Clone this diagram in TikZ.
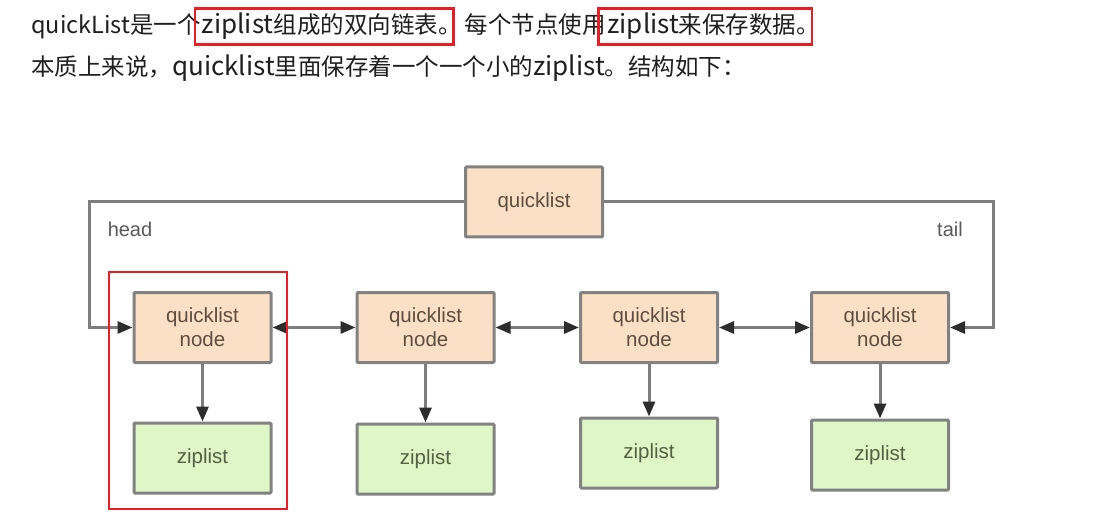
\documentclass[tikz,border=0pt]{standalone}
\usepackage{fontspec}
\setmainfont{Liberation Sans}
\newfontfamily\cjk{Noto Sans CJK SC}
\usetikzlibrary{arrows.meta}

\definecolor{qlfill}{RGB}{251,224,197}
\definecolor{zlfill}{RGB}{223,246,199}
\definecolor{boxline}{RGB}{130,130,130}
\definecolor{linegray}{RGB}{125,125,125}
\definecolor{tipdark}{RGB}{45,45,45}
\definecolor{qltext}{RGB}{92,78,64}
\definecolor{zltext}{RGB}{82,98,66}
\definecolor{hlred}{RGB}{234,28,36}

\newcommand\lat[1]{{\fontsize{26}{26}\selectfont #1}}

\tikzset{
    >={Triangle[length=15pt,width=12pt,color=tipdark]},
    qlbox/.style={draw=boxline, line width=3pt, fill=qlfill, rounded corners=1pt,
        minimum width=137pt, minimum height=70pt, inner sep=0pt, align=center,
        text=qltext, font=\fontsize{20.5}{24}\selectfont},
    zlbox/.style={qlbox, fill=zlfill, text=zltext},
    link/.style={draw=linegray, line width=3pt},
    ptrlabel/.style={text=black!65, font=\fontsize{20}{24}\selectfont},
    intro/.style={anchor=base west, inner sep=0pt, text=black!88,
        font=\cjk\fontsize{23.5}{28}\selectfont},
    hl/.style={draw=hlred, line width=2.5pt, minimum height=36pt}
}

\begin{document}
\begin{tikzpicture}[x=1pt, y=-1pt]
    \useasboundingbox[fill=white] (0,0) rectangle (1115,521);
    % intro text
    \node[intro] (t1) at (31,34) {quickList是一个};
    \node[intro,hl] (t2) at ([xshift=-7pt]t1.base east) {\kern7pt\lat{ziplist}组成的双向链表。\kern-8pt};
    \node[intro] (t3) at ([xshift=10pt]t2.base east) {每个节点使用};
    \node[intro,hl] (t4) at ([xshift=-9pt]t3.base east) {\kern9pt\lat{ziplist}来保存数据。\kern-8pt};
    \node[intro] (t5) at (31,76) {本质上来说，\lat{quicklist}里面保存着一个一个小的\lat{ziplist}。结构如下：};

    % quicklist and its nodes
    \node[qlbox] (ql) at (534,202) {quicklist};
    \node[qlbox] (n1) at (202.5,327.5) {quicklist\\node};
    \node[qlbox] (n2) at (425.5,327.5) {quicklist\\node};
    \node[qlbox] (n3) at (649,327.5) {quicklist\\node};
    \node[qlbox] (n4) at (880,327.5) {quicklist\\node};
    \node[zlbox] (z1) at (202.5,458) {ziplist};
    \node[zlbox] (z2) at (425.5,459) {ziplist};
    \node[zlbox] (z3) at (649,453) {ziplist};
    \node[zlbox] (z4) at (880,455) {ziplist};

    \coordinate (hd) at (89,327.5);
    \coordinate (tl) at (993,327.5);
    \draw[link,->] (ql.west) -| (hd) -- (n1.west);
    \draw[link,->] (ql.east) -| (tl) -- (n4.east);
    \node[ptrlabel] (headlbl) at (130,229) {head};
    \node[ptrlabel] (taillbl) at (950,229) {tail};

    \draw[link,<->] (n1) -- (n2);
    \draw[link,<->] (n2) -- (n3);
    \draw[link,<->] (n3) -- (n4);
    \foreach \i in {1,...,4}
        \draw[link,->] (n\i) -- (n\i |- z\i.north);

    \draw[draw=hlred, line width=2.5pt] (109,272) rectangle (287,509);
\end{tikzpicture}
\end{document}
